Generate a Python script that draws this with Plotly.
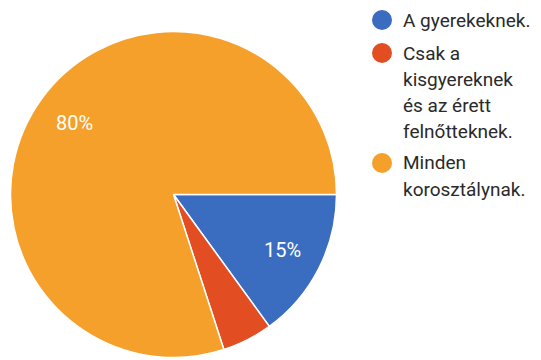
import math
import plotly.graph_objects as go

labels = ["A gyerekeknek.", "Csak a<br>kisgyereknek<br>és az érett<br>felnőtteknek.", "Minden<br>korosztálynak."]
values = [15, 5, 80]
colors = ["#3A6DBF", "#E24D22", "#F5A02A"]
show_pct = [True, False, True]

W, H = 541, 360
cx, cy, R = 173.5, 194.5, 163
start_deg = 90  # first slice starts at 3 o'clock, clockwise

fig = go.Figure()
fig.add_trace(go.Pie(
    labels=[l.replace("<br>", " ") for l in labels],
    values=values,
    sort=False,
    direction="clockwise",
    rotation=start_deg,
    marker=dict(colors=colors, line=dict(color="white", width=1.5)),
    textinfo="none",
    showlegend=False,
    domain=dict(x=[(cx - R) / W, (cx + R) / W], y=[1 - (cy + R) / H, 1 - (cy - R) / H]),
    hoverinfo="label+percent",
))

annotations = []
total = sum(values)
acc = 0
for v, show in zip(values, show_pct):
    mid = start_deg + 360 * (acc + v / 2) / total
    acc += v
    if not show:
        continue
    a = math.radians(mid)
    px = cx + 0.75 * R * math.sin(a)
    py = cy - 0.75 * R * math.cos(a)
    annotations.append(dict(text=f"{round(100 * v / total)}%", xref="paper", yref="paper",
                            x=px / W, y=1 - py / H, xanchor="center", yanchor="middle",
                            showarrow=False,
                            font=dict(family="Roboto", size=20, color="white")))

# legend drawn as circles + text lines
item_tops = [20, 53, 163]
line_gap = 26
shapes = []
for label, color, y0 in zip(labels, colors, item_tops):
    shapes.append(dict(type="circle", xref="paper", yref="paper",
                       x0=(382 - 10) / W, x1=(382 + 10) / W,
                       y0=1 - (y0 + 10) / H, y1=1 - (y0 - 10) / H,
                       fillcolor=color, line=dict(width=0)))
    for i, line in enumerate(label.split("<br>")):
        annotations.append(dict(text=line, xref="paper", yref="paper",
                                x=401 / W, y=1 - (y0 + i * line_gap) / H,
                                xanchor="left", yanchor="middle", showarrow=False,
                                font=dict(family="Roboto", size=19, color="#2a2a2a")))

fig.update_layout(
    width=W, height=H,
    margin=dict(l=0, r=0, t=0, b=0),
    paper_bgcolor="white", plot_bgcolor="white",
    shapes=shapes, annotations=annotations,
)

fig.write_html("out.html")
